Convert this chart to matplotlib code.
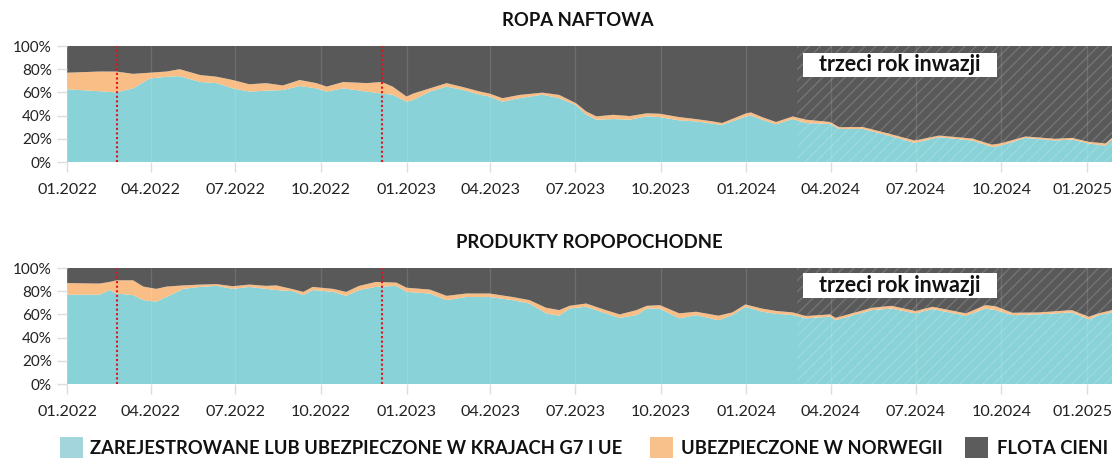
import numpy as np
import matplotlib
matplotlib.use("Agg")
import matplotlib.pyplot as plt
import matplotlib.dates as mdates
from matplotlib.patches import Rectangle
from matplotlib.transforms import ScaledTranslation

plt.rcParams['font.family'] = ['Lato', 'DejaVu Sans']
plt.rcParams['hatch.linewidth'] = 1.0

# ---------------- DATA ----------------
titles = ["ROPA NAFTOWA", "PRODUKTY ROPOPOCHODNE"]
legend_labels = ["ZAREJESTROWANE LUB UBEZPIECZONE W KRAJACH G7 I UE",
                 "UBEZPIECZONE W NORWEGII", "FLOTA CIENI"]
annotation = "trzeci rok inwazji"
event_dates = ["2022-02-24", "2022-12-05"]
third_year_start = "2024-02-24"
tick_dates = ["2022-01-01", "2022-04-01", "2022-07-01", "2022-10-01", "2023-01-01",
              "2023-04-01", "2023-07-01", "2023-10-01", "2024-01-01", "2024-04-01",
              "2024-07-01", "2024-10-01", "2025-01-01"]
tick_labels = ["01.2022", "04.2022", "07.2022", "10.2022", "01.2023", "04.2023", "07.2023",
               "10.2023", "01.2024", "04.2024", "07.2024", "10.2024", "01.2025"]
y_ticks = [0, 20, 40, 60, 80, 100]

oil_dates = ["2022-01-01", "2022-02-05", "2022-02-23", "2022-03-13", "2022-03-31", "2022-04-18",
             "2022-05-02", "2022-05-24", "2022-06-11", "2022-06-28", "2022-07-16", "2022-08-03",
             "2022-08-21", "2022-09-08", "2022-09-26", "2022-10-07", "2022-10-25", "2022-11-19",
             "2022-12-05", "2022-12-17", "2023-01-01", "2023-01-08", "2023-01-26", "2023-02-13",
             "2023-03-03", "2023-03-21", "2023-03-31", "2023-04-14", "2023-05-02", "2023-05-27",
             "2023-06-14", "2023-07-02", "2023-07-13", "2023-07-24", "2023-08-11", "2023-08-29",
             "2023-09-16", "2023-09-30", "2023-10-21", "2023-11-08", "2023-11-26", "2023-12-06",
             "2024-01-01", "2024-01-06", "2024-01-18", "2024-02-02", "2024-02-20", "2024-03-05",
             "2024-03-31", "2024-04-10", "2024-05-05", "2024-06-02", "2024-06-30", "2024-07-26",
             "2024-08-31", "2024-09-21", "2024-09-30", "2024-10-27", "2024-11-28", "2024-12-16",
             "2025-01-03", "2025-01-21", "2025-01-28"]
oil_g7 = [62.7, 61.0, 60.0, 63.5, 72.0, 73.5, 74.0, 69.0, 68.0, 63.5, 60.7, 61.5,
          62.0, 65.5, 63.5, 60.7, 63.5, 60.7, 59.0, 58.0, 52.0, 53.5, 60.7, 65.0,
          62.0, 58.0, 56.4, 52.0, 55.0, 58.0, 55.0, 49.0, 40.7, 36.5, 37.0, 36.5,
          39.3, 38.7, 35.9, 35.0, 33.0, 32.0, 39.3, 40.0, 36.5, 32.5, 37.0, 33.6,
          32.8, 28.5, 28.5, 22.8, 16.5, 21.4, 18.5, 13.0, 14.0, 20.8, 18.5, 19.4,
          16.0, 14.0, 19.4]
oil_nor = [14.3, 17.0, 18.0, 12.5, 5.0, 4.5, 6.0, 6.0, 5.5, 7.2, 6.3, 6.5,
           4.0, 5.2, 4.5, 4.3, 5.5, 7.3, 10.0, 7.0, 4.4, 5.5, 2.8, 3.0,
           2.5, 2.7, 2.6, 3.0, 2.8, 1.8, 2.8, 1.7, 2.9, 2.8, 3.7, 3.1,
           2.7, 2.9, 2.8, 2.0, 2.0, 1.6, 2.7, 2.7, 2.2, 2.0, 2.3, 2.9,
           1.7, 1.5, 1.7, 1.7, 2.0, 1.4, 1.7, 2.0, 2.0, 1.2, 1.5, 1.4,
           1.4, 2.0, 1.4]

prod_dates = ["2022-01-01", "2022-02-05", "2022-02-16", "2022-02-23", "2022-03-13", "2022-03-24",
              "2022-04-07", "2022-04-18", "2022-05-06", "2022-05-24", "2022-06-11", "2022-06-28",
              "2022-07-16", "2022-08-03", "2022-08-14", "2022-09-01", "2022-09-12", "2022-09-22",
              "2022-10-14", "2022-10-28", "2022-11-11", "2022-11-29", "2022-12-21", "2023-01-01",
              "2023-01-26", "2023-02-13", "2023-03-06", "2023-03-31", "2023-04-25", "2023-05-13",
              "2023-05-31", "2023-06-14", "2023-06-25", "2023-07-13", "2023-08-03", "2023-08-18",
              "2023-09-05", "2023-09-16", "2023-09-30", "2023-10-21", "2023-11-08", "2023-12-02",
              "2023-12-17", "2023-12-31", "2024-01-18", "2024-02-02", "2024-02-20", "2024-03-05",
              "2024-03-31", "2024-04-06", "2024-05-15", "2024-06-05", "2024-07-01", "2024-07-19",
              "2024-08-24", "2024-09-14", "2024-09-25", "2024-10-13", "2024-11-10", "2024-12-16",
              "2025-01-03", "2025-01-14", "2025-01-28"]
prod_g7 = [77.0, 77.0, 81.0, 78.0, 76.6, 72.3, 71.0, 75.0, 82.0, 83.7, 84.6, 82.0,
           83.7, 82.0, 81.0, 80.0, 76.6, 81.0, 79.4, 76.0, 81.0, 83.7, 84.6, 79.4,
           78.0, 72.3, 75.0, 75.0, 72.3, 69.4, 60.9, 58.9, 65.0, 66.6, 60.9, 57.0,
           59.4, 65.0, 65.0, 56.6, 59.4, 55.0, 59.4, 66.6, 62.3, 60.5, 59.4, 56.6,
           58.0, 55.0, 63.7, 65.0, 60.9, 64.6, 58.9, 65.0, 63.7, 59.4, 60.0, 61.7,
           55.7, 59.4, 61.7]
prod_nor = [10.0, 9.6, 7.0, 11.4, 12.8, 11.7, 11.0, 9.0, 3.0, 2.0, 1.5, 2.3,
            2.0, 2.6, 4.0, 1.7, 2.8, 2.7, 2.6, 3.4, 3.6, 4.3, 2.8, 3.6,
            3.4, 3.7, 3.0, 3.0, 2.7, 2.9, 4.8, 4.8, 2.4, 2.8, 2.8, 3.0,
            4.3, 2.4, 3.0, 4.3, 2.9, 3.9, 2.3, 2.0, 2.7, 2.5, 2.3, 2.0,
            2.0, 2.0, 2.0, 2.4, 2.0, 2.0, 2.0, 3.0, 3.3, 2.0, 1.7, 2.0,
            2.3, 1.6, 2.0]

# ---------------- STYLE ----------------
C_G7 = "#88D2D8"
C_NOR = "#F9BD86"
C_SHADOW = "#595959"
C_G7_LEG = "#A3D6DC"
C_NOR_LEG = "#F8C08A"
C_SH_LEG = "#5C5C5C"

W, H = 1114, 459
fig = plt.figure(figsize=(W / 100, H / 100), dpi=100)

def px_rect(x0, y_top, x1, y_bot):
    return [x0 / W, 1 - y_bot / H, (x1 - x0) / W, (y_bot - y_top) / H]

axes = [fig.add_axes(px_rect(67, 46, 1112, 162)),
        fig.add_axes(px_rect(67, 268, 1112, 384))]
datasets = [(oil_dates, oil_g7, oil_nor), (prod_dates, prod_g7, prod_nor)]
box_y = [(0.733, 0.21), (0.744, 0.21)]

xmin = np.datetime64("2022-01-01")
xmax = np.datetime64("2025-01-28")
xt = np.array(tick_dates, dtype="datetime64[D]")

for i, (ax, (dates, g7, nor)) in enumerate(zip(axes, datasets)):
    d = np.array(dates, dtype="datetime64[D]")
    g7 = np.array(g7)
    nor = np.array(nor)
    shadow = 100 - g7 - nor
    ax.stackplot(d, g7, nor, shadow, colors=[C_G7, C_NOR, C_SHADOW], linewidth=0, zorder=1)
    ax.set_xlim(xmin, xmax)
    ax.set_ylim(0, 100)
    for s in ax.spines.values():
        s.set_visible(False)
    ax.set_yticks(y_ticks)
    ax.set_yticklabels([f"{v}%" for v in y_ticks])
    ax.set_xticks(xt)
    ax.set_xticklabels(tick_labels)
    ax.tick_params(axis='x', length=7, color='#dddddd', width=1, pad=8, labelsize=11.6, labelcolor='#222222')
    ax.tick_params(axis='y', length=7, color='#dddddd', width=1, pad=4, labelsize=11, labelcolor='#222222')
    last = ax.get_xticklabels()[-1]
    last.set_transform(last.get_transform() + ScaledTranslation(-4 / 100, 0, fig.dpi_scale_trans))
    ax.set_axisbelow(False)
    ax.grid(axis='x', color='#ffffff', alpha=0.12, lw=1, zorder=2)
    # hatched third-year region
    ax.axvspan(np.datetime64(third_year_start), xmax, facecolor='none',
               edgecolor=(1, 1, 1, 0.16), hatch='///', lw=0, zorder=3)
    # event lines
    for ev in event_dates:
        ax.axvline(np.datetime64(ev), color='#e0141e', lw=1.5, ls=(0, (1, 1.2)), zorder=4)
    # annotation box
    by, bh = box_y[i]
    ax.add_patch(Rectangle((0.704, by), 0.186, bh, transform=ax.transAxes,
                           facecolor='white', edgecolor='none', zorder=5))
    ax.text(0.7966, by + bh / 2, annotation, transform=ax.transAxes, ha='center', va='center',
            fontsize=15.5, fontweight='bold', color='#111111', zorder=6)

# titles
fig.text(578 / W, 1 - 21 / H, titles[0], ha='center', va='center', fontsize=13.3,
         fontweight='bold', color='#111111')
fig.text(589 / W, 1 - 243 / H, titles[1], ha='center', va='center', fontsize=13.3,
         fontweight='bold', color='#111111')

# legend
leg_items = [(60, 83, 90, C_G7_LEG), (650, 673, 681, C_NOR_LEG), (965, 988, 997, C_SH_LEG)]
for (x0, x1, tx, col), lab in zip(leg_items, legend_labels):
    fig.patches.append(Rectangle((x0 / W, 1 - 458 / H), (x1 - x0) / W, 21 / H,
                                 transform=fig.transFigure, facecolor=col, edgecolor='none'))
    fig.text(tx / W, 1 - 449 / H, lab, ha='left', va='center', fontsize=13.2,
             fontweight='bold', color='#111111')

fig.savefig("out.png", dpi=100)
